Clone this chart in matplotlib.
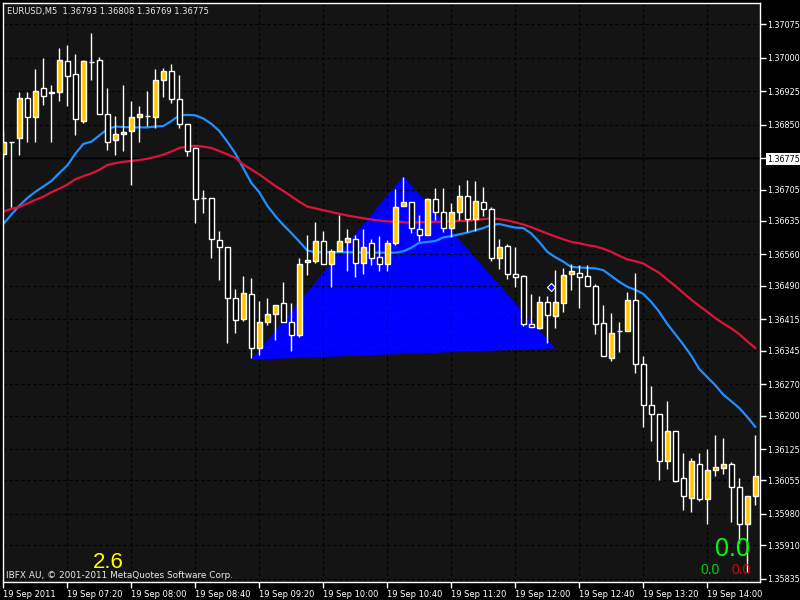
import numpy as np
import matplotlib.pyplot as plt

# EURUSD M5, 19 Sep 2011, 06:40 .. 14:30 (95 bars)
opens = [1.36785, 1.36812, 1.36820, 1.36909, 1.36868, 1.36931, 1.36921, 1.36922, 1.36992, 1.36963,
         1.36859, 1.36990, 1.36994, 1.36873, 1.36815, 1.36829, 1.36835, 1.36868, 1.36870, 1.36868,
         1.36951, 1.36970, 1.36908, 1.36851, 1.36798, 1.36686, 1.36686, 1.36592, 1.36577, 1.36462,
         1.36415, 1.36471, 1.36352, 1.36410, 1.36426, 1.36451, 1.36410, 1.36379, 1.36543, 1.36546,
         1.36590, 1.36538, 1.36567, 1.36587, 1.36594, 1.36540, 1.36586, 1.36555, 1.36538, 1.36585,
         1.36668, 1.36678, 1.36616, 1.36603, 1.36683, 1.36654, 1.36620, 1.36656, 1.36691, 1.36639,
         1.36677, 1.36662, 1.36552, 1.36580, 1.36516, 1.36512, 1.36405, 1.36396, 1.36453, 1.36423,
         1.36452, 1.36516, 1.36518, 1.36512, 1.36490, 1.36406, 1.36328, 1.36389, 1.36390, 1.36458,
         1.36315, 1.36224, 1.36203, 1.36099, 1.36165, 1.36060, 1.36015, 1.36091, 1.36013, 1.36079,
         1.36082, 1.36091, 1.36040, 1.35957, 1.36021]
closes = [1.36812, 1.36811, 1.36909, 1.36868, 1.36925, 1.36915, 1.36922, 1.36994, 1.36959, 1.36862,
          1.36992, 1.36991, 1.36873, 1.36812, 1.36829, 1.36834, 1.36867, 1.36875, 1.36870, 1.36951,
          1.36970, 1.36908, 1.36852, 1.36791, 1.36683, 1.36686, 1.36594, 1.36577, 1.36462, 1.36414,
          1.36473, 1.36350, 1.36409, 1.36426, 1.36447, 1.36410, 1.36379, 1.36538, 1.36548, 1.36590,
          1.36538, 1.36567, 1.36590, 1.36596, 1.36540, 1.36577, 1.36552, 1.36539, 1.36585, 1.36667,
          1.36678, 1.36619, 1.36603, 1.36683, 1.36654, 1.36619, 1.36656, 1.36691, 1.36639, 1.36680,
          1.36662, 1.36552, 1.36577, 1.36516, 1.36509, 1.36404, 1.36397, 1.36453, 1.36425, 1.36453,
          1.36513, 1.36522, 1.36510, 1.36490, 1.36404, 1.36332, 1.36384, 1.36389, 1.36458, 1.36315,
          1.36224, 1.36203, 1.36099, 1.36166, 1.36054, 1.36021, 1.36099, 1.36013, 1.36079, 1.36084,
          1.36091, 1.36040, 1.35957, 1.36021, 1.36065]
highs = [1.36834, 1.36812, 1.36922, 1.36924, 1.36974, 1.36998, 1.36939, 1.37021, 1.37028, 1.37008,
         1.36995, 1.37056, 1.37001, 1.36931, 1.36869, 1.36939, 1.36903, 1.36892, 1.36925, 1.36974,
         1.36976, 1.36986, 1.36961, 1.36851, 1.36800, 1.36704, 1.36686, 1.36613, 1.36577, 1.36482,
         1.36512, 1.36507, 1.36455, 1.36463, 1.36447, 1.36498, 1.36451, 1.36552, 1.36604, 1.36633,
         1.36613, 1.36572, 1.36648, 1.36617, 1.36604, 1.36617, 1.36595, 1.36601, 1.36592, 1.36706,
         1.36734, 1.36678, 1.36648, 1.36687, 1.36708, 1.36708, 1.36674, 1.36715, 1.36726, 1.36724,
         1.36711, 1.36665, 1.36594, 1.36583, 1.36577, 1.36514, 1.36472, 1.36467, 1.36467, 1.36525,
         1.36529, 1.36538, 1.36537, 1.36537, 1.36494, 1.36447, 1.36429, 1.36410, 1.36477, 1.36518,
         1.36333, 1.36266, 1.36203, 1.36233, 1.36165, 1.36116, 1.36105, 1.36116, 1.36125, 1.36157,
         1.36149, 1.36097, 1.36060, 1.36021, 1.36157]
lows = [1.36776, 1.36667, 1.36783, 1.36812, 1.36812, 1.36894, 1.36812, 1.36904, 1.36892, 1.36827,
        1.36853, 1.36950, 1.36873, 1.36793, 1.36783, 1.36791, 1.36716, 1.36812, 1.36846, 1.36842,
        1.36913, 1.36898, 1.36843, 1.36780, 1.36631, 1.36653, 1.36553, 1.36503, 1.36363, 1.36384,
        1.36412, 1.36328, 1.36335, 1.36403, 1.36369, 1.36410, 1.36345, 1.36376, 1.36514, 1.36542,
        1.36538, 1.36487, 1.36567, 1.36524, 1.36510, 1.36516, 1.36537, 1.36522, 1.36522, 1.36581,
        1.36668, 1.36607, 1.36589, 1.36603, 1.36637, 1.36611, 1.36598, 1.36636, 1.36611, 1.36613,
        1.36646, 1.36546, 1.36527, 1.36505, 1.36487, 1.36401, 1.36397, 1.36394, 1.36363, 1.36396,
        1.36431, 1.36481, 1.36441, 1.36490, 1.36382, 1.36332, 1.36321, 1.36343, 1.36390, 1.36295,
        1.36174, 1.36144, 1.36055, 1.36081, 1.36051, 1.35989, 1.35985, 1.36008, 1.35958, 1.36064,
        1.36069, 1.35963, 1.35915, 1.35851, 1.35999]

# moving averages
ma_fast = [1.36628, 1.36649, 1.36669, 1.36686, 1.36700, 1.36712, 1.36724, 1.36742, 1.36759, 1.36785,
           1.36807, 1.36812, 1.36826, 1.36840, 1.36846, 1.36845, 1.36844, 1.36844, 1.36844, 1.36846,
           1.36847, 1.36858, 1.36871, 1.36872, 1.36871, 1.36864, 1.36852, 1.36836, 1.36812, 1.36786,
           1.36753, 1.36720, 1.36699, 1.36669, 1.36646, 1.36626, 1.36608, 1.36589, 1.36569, 1.36565,
           1.36565, 1.36565, 1.36565, 1.36565, 1.36565, 1.36564, 1.36564, 1.36564, 1.36564, 1.36564,
           1.36567, 1.36575, 1.36586, 1.36588, 1.36590, 1.36598, 1.36601, 1.36605, 1.36609, 1.36614,
           1.36619, 1.36626, 1.36628, 1.36624, 1.36620, 1.36619, 1.36607, 1.36588, 1.36566, 1.36554,
           1.36544, 1.36532, 1.36531, 1.36530, 1.36529, 1.36525, 1.36512, 1.36499, 1.36488, 1.36481,
           1.36472, 1.36454, 1.36432, 1.36405, 1.36382, 1.36359, 1.36334, 1.36304, 1.36286, 1.36268,
           1.36247, 1.36232, 1.36217, 1.36197, 1.36175]
ma_slow = [1.36656, 1.36662, 1.36666, 1.36674, 1.36682, 1.36689, 1.36699, 1.36707, 1.36716, 1.36728,
           1.36735, 1.36741, 1.36749, 1.36760, 1.36764, 1.36767, 1.36769, 1.36771, 1.36774, 1.36778,
           1.36783, 1.36790, 1.36798, 1.36801, 1.36803, 1.36801, 1.36798, 1.36791, 1.36784, 1.36776,
           1.36761, 1.36750, 1.36739, 1.36726, 1.36713, 1.36702, 1.36690, 1.36678, 1.36667, 1.36663,
           1.36659, 1.36655, 1.36651, 1.36647, 1.36644, 1.36641, 1.36638, 1.36636, 1.36634, 1.36633,
           1.36632, 1.36631, 1.36632, 1.36632, 1.36633, 1.36633, 1.36634, 1.36635, 1.36635, 1.36637,
           1.36639, 1.36641, 1.36639, 1.36636, 1.36632, 1.36627, 1.36621, 1.36614, 1.36607, 1.36600,
           1.36594, 1.36588, 1.36585, 1.36581, 1.36578, 1.36573, 1.36566, 1.36557, 1.36549, 1.36545,
           1.36540, 1.36529, 1.36519, 1.36504, 1.36490, 1.36474, 1.36459, 1.36445, 1.36432, 1.36418,
           1.36406, 1.36395, 1.36382, 1.36366, 1.36351]

# triangle pattern (bar index, price)
tri_idx = [31, 50, 69]
tri_price = [1.36325, 1.36735, 1.36350]
signal_idx, signal_price = 68.5, 1.36488

last_price = 1.36775
title_text = 'EURUSD,M5  1.36793 1.36808 1.36769 1.36775'

ytick_vals = [1.37075, 1.37000, 1.36925, 1.36850, 1.36775, 1.36705, 1.36635, 1.36560, 1.36490,
              1.36415, 1.36345, 1.36270, 1.36200, 1.36125, 1.36055, 1.35980, 1.35910, 1.35835]
ytick_labels = ['%.5f' % v for v in ytick_vals]
xtick_idx = [0, 8, 16, 24, 32, 40, 48, 56, 64, 72, 80, 88]
xtick_labels = ['19 Sep 2011', '19 Sep 07:20', '19 Sep 08:00', '19 Sep 08:40', '19 Sep 09:20',
                '19 Sep 10:00', '19 Sep 10:40', '19 Sep 11:20', '19 Sep 12:00', '19 Sep 12:40',
                '19 Sep 13:20', '19 Sep 14:00']

o = np.array(opens)
c = np.array(closes)
x = np.arange(len(o))

W, H = 800, 600
fig = plt.figure(figsize=(8, 6), dpi=100, facecolor='black')
ax = fig.add_axes([3 / W, 18 / H, 757 / W, 579 / H], facecolor='#141414')

ax.fill(tri_idx, tri_price, color='#0000ff', lw=0, zorder=1)

ax.plot(x, ma_fast, color='#1e90ff', lw=1.6, zorder=2)
ax.plot(x, ma_slow, color='#dc143c', lw=1.6, zorder=2)
ax.axhline(last_price, color='black', lw=1, zorder=1.6)

# candles
ax.vlines(x, lows, highs, color='white', lw=1, zorder=3)
body_col = np.where(c >= o, '#ffc800', 'black')
ax.bar(x, np.abs(c - o), bottom=np.minimum(o, c), width=0.6, color=body_col,
       edgecolor='white', linewidth=1, zorder=4)

ax.plot(signal_idx, signal_price, marker='D', ms=4.5, color='#0000ff', mec='white', mew=0.8, zorder=5)

ax.set_xlim(-0.04, 94.6)
ax.set_ylim(1.35828, 1.37122)

ax.yaxis.tick_right()
ax.set_yticks(ytick_vals)
ax.set_yticklabels(ytick_labels)
ax.set_xticks(xtick_idx)
ax.set_xticklabels(xtick_labels, ha='left')
ax.tick_params(colors='white', length=4, width=1, labelsize=6, pad=2)
ax.tick_params(axis='y', labelsize=5.8, pad=1.5)
ax.tick_params(axis='x', pad=1.5)
for lab in ax.get_yticklabels():
    if lab.get_text() == '%.5f' % last_price:
        lab.set_color('black')
        lab.set_bbox(dict(facecolor='white', edgecolor='none', pad=1.2))

ax.grid(True, color='black', ls=(0, (2.7, 2.7)), lw=0.8)
ax.set_axisbelow('line')
for s in ax.spines.values():
    s.set_color('white')
    s.set_linewidth(1)

# texts on the chart
fig.text(7 / W, 1 - 14 / H, title_text, color='#e8e8e8', fontsize=6.0, va='baseline')
fig.text(6 / W, 1 - 578 / H, 'IBFX AU, \u00a9 2001-2011 MetaQuotes Software Corp.',
         color='#e8e8e8', fontsize=6.4, va='baseline')
fig.text(108 / W, 1 - 568 / H, '2.6', color='yellow', fontsize=16,
         family='Liberation Sans', ha='center', va='baseline')
fig.text(732.5 / W, 1 - 556 / H, '0.0', color='#00ff00', fontsize=18,
         family='Liberation Sans', ha='center', va='baseline')
fig.text(709.7 / W, 1 - 574 / H, '0.0', color='#00d000', fontsize=10,
         family='Liberation Sans', ha='center', va='baseline')
fig.text(741.3 / W, 1 - 574 / H, '0.0', color='#e00000', fontsize=10,
         family='Liberation Sans', ha='center', va='baseline')

fig.savefig('out.png', dpi=100, facecolor='black')
